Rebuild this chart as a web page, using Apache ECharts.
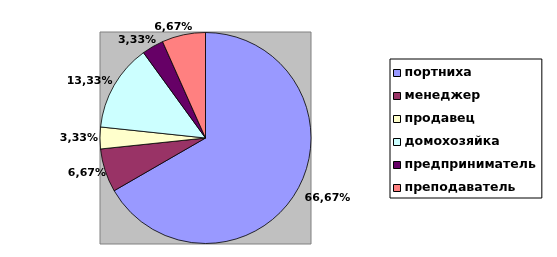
<!DOCTYPE html>
<html>
<head>
<meta charset="utf-8">
<script src="https://cdn.jsdelivr.net/npm/echarts@6/dist/echarts.min.js"></script>
<style>
  html, body { margin: 0; padding: 0; background: #ffffff; }
  #chart { width: 557px; height: 257px; }
</style>
</head>
<body>
<div id="chart"></div>
<script>
// ---- data ----
const categories = ['портниха', 'менеджер', 'продавец', 'домохозяйка', 'предприниматель', 'преподаватель'];
const shares = [66.67, 6.67, 3.33, 13.33, 3.33, 6.67];

// ---- style ----
const palette = ['#9999FF', '#993366', '#FFFFCC', '#CCFFFF', '#660066', '#FF8080'];
const CX = 205.5, CY = 138, R = 105.5;

const total = shares.reduce((a, b) => a + b, 0);
function midAngle(i) {
  let cum = 0;
  for (let k = 0; k < i; k++) cum += shares[k];
  return (cum + shares[i] / 2) / total * Math.PI * 2;
}

const chart = echarts.init(document.getElementById('chart'), null, { renderer: 'canvas' });
chart.setOption({
  animation: false,
  backgroundColor: '#ffffff',
  color: palette,
  graphic: [{
    type: 'rect',
    z: -10,
    shape: { x: 100, y: 32, width: 211, height: 212 },
    style: { fill: '#C0C0C0', stroke: '#808080', lineWidth: 1 }
  }],
  legend: {
    orient: 'vertical',
    left: 390,
    top: 59,
    padding: [7, 6, 3, 3],
    itemGap: 9,
    itemWidth: 7,
    itemHeight: 7,
    icon: 'rect',
    borderColor: '#000000',
    borderWidth: 1,
    backgroundColor: '#ffffff',
    itemStyle: { borderColor: '#000000', borderWidth: 1 },
    textStyle: {
      fontFamily: 'DejaVu Sans',
      fontWeight: 'bold',
      fontSize: 12.5,
      lineHeight: 14,
      color: '#000000',
      padding: [0, 0, 0, -1]
    },
    data: categories
  },
  series: [{
    type: 'pie',
    center: [CX, CY],
    radius: R,
    startAngle: 90,
    clockwise: true,
    minAngle: 0,
    avoidLabelOverlap: false,
    itemStyle: { borderColor: '#000000', borderWidth: 0.8 },
    label: {
      show: true,
      position: 'outside',
      color: '#000000',
      fontFamily: 'DejaVu Sans',
      fontWeight: 'bold',
      fontSize: 11,
      formatter: p => p.value.toFixed(2).replace('.', ',') + '%'
    },
    labelLine: { show: false },
    labelLayout: function (params) {
      const a = midAngle(params.dataIndex);
      const dx = Math.sin(a), dy = -Math.cos(a);
      const w = params.labelRect.width, h = params.labelRect.height;
      const g = 2 + 8 * Math.max(0, dx);
      return {
        x: CX + dx * (R + g) + dx * w / 2 + 6 * dy,
        y: CY + dy * (R + g) + dy * h / 2,
        align: 'center',
        verticalAlign: 'middle'
      };
    },
    emphasis: { disabled: true },
    data: categories.map((c, i) => ({ name: c, value: shares[i] }))
  }]
});
</script>
</body>
</html>
